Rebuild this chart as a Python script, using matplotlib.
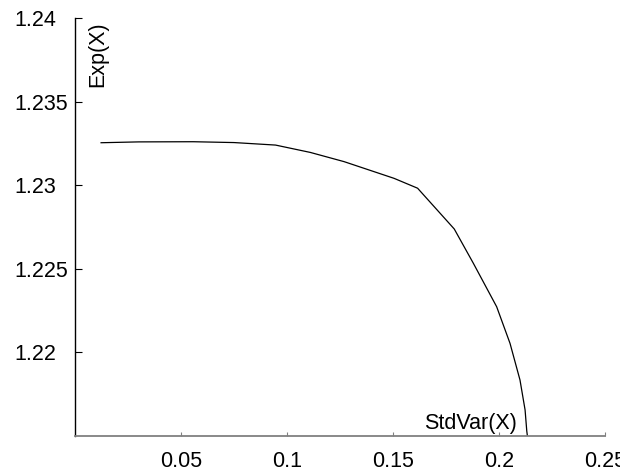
import matplotlib
matplotlib.use("Agg")
import matplotlib.pyplot as plt

# frontier
std_x = [0.0123, 0.030, 0.0558, 0.075, 0.0946, 0.1110, 0.1269, 0.1505, 0.1616,
         0.1789, 0.1879, 0.1989, 0.2052, 0.2099, 0.2123, 0.2131, 0.2134]
exp_x = [1.23254, 1.23259, 1.23260, 1.23255, 1.23240, 1.23196, 1.23141, 1.23041,
         1.22982, 1.22738, 1.22533, 1.22273, 1.22054, 1.21835, 1.21656, 1.21530,
         1.21500]

x_ticks = [0.05, 0.1, 0.15, 0.2, 0.25]
x_labels = ["0.05", "0.1", "0.15", "0.2", "0.25"]
y_ticks = [1.22, 1.225, 1.23, 1.235, 1.24]
y_labels = ["1.22", "1.225", "1.23", "1.235", "1.24"]

plt.rcParams["font.family"] = ["Liberation Sans", "DejaVu Sans"]

fig = plt.figure(figsize=(6.2, 4.71), dpi=100)
ax = fig.add_axes([75 / 620, 35 / 471, 530 / 620, 418 / 471])

ax.plot(std_x, exp_x, color="black", linewidth=0.9)

ax.set_xlim(0, 0.25)
ax.set_ylim(1.215, 1.24)

ax.spines["top"].set_visible(False)
ax.spines["right"].set_visible(False)
ax.spines["left"].set_color("black")
ax.spines["bottom"].set_color("#808080")
ax.spines["left"].set_linewidth(1.0)
ax.spines["bottom"].set_linewidth(1.3)

ax.set_xticks(x_ticks)
ax.set_xticklabels(x_labels)
ax.set_yticks(y_ticks)
ax.set_yticklabels(y_labels)

ax.tick_params(axis="x", direction="in", length=3, color="#808080",
               labelsize=15.5, pad=11)
ax.tick_params(axis="y", direction="in", length=5, color="black",
               labelsize=15.5, pad=44)
for lab in ax.get_yticklabels():
    lab.set_horizontalalignment("left")

ax.text(23 / 530, 0.993, "Exp(X)", transform=ax.transAxes, rotation=90,
        ha="center", va="top", fontsize=15.5)
ax.text(442 / 530, 0.005, "StdVar(X)", transform=ax.transAxes,
        ha="right", va="bottom", fontsize=15.5)

fig.savefig("out.png", dpi=100)
